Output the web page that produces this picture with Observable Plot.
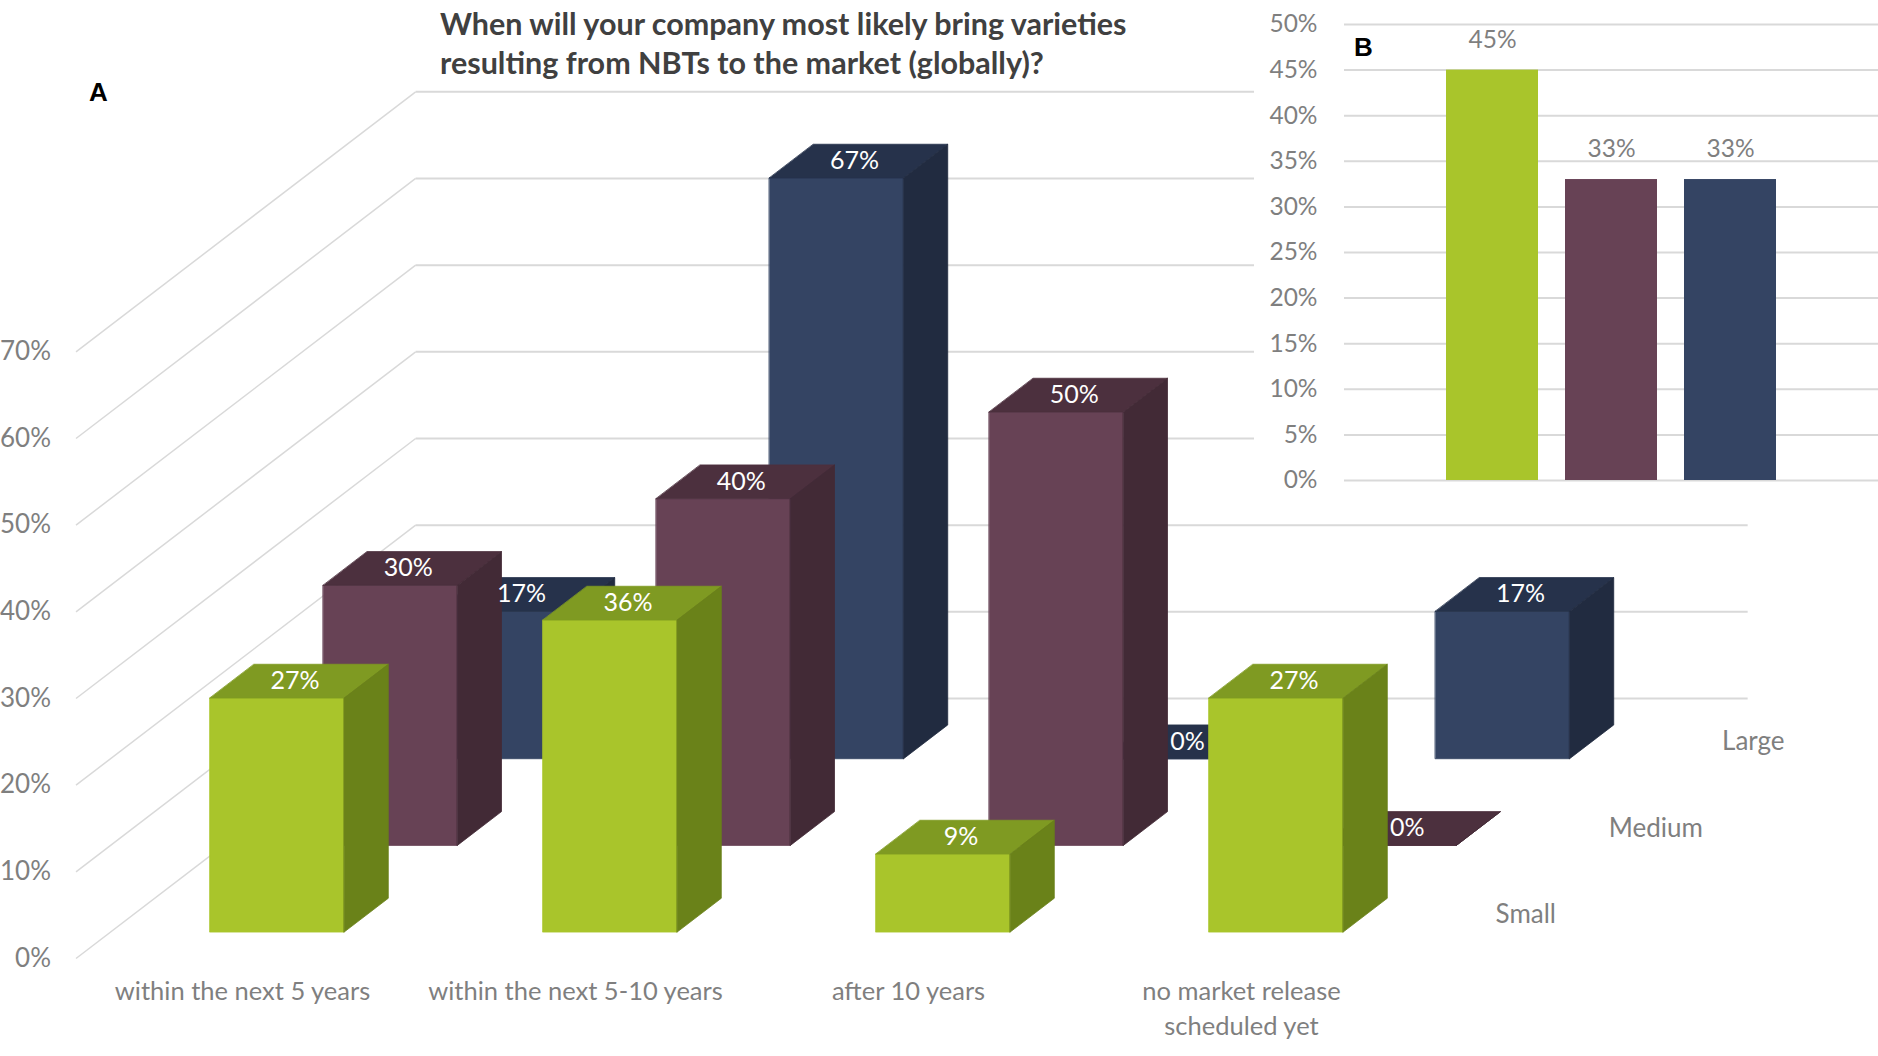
<!DOCTYPE html>
<html>
<head>
<meta charset="utf-8">
<script src="https://cdn.jsdelivr.net/npm/d3@7"></script>
<script src="https://cdn.jsdelivr.net/npm/@observablehq/plot@0.6"></script>
<style>
  html, body { margin: 0; padding: 0; background: #fff; }
  #wrap { position: relative; width: 1878px; height: 1056px; overflow: hidden; font-family: Lato, "Open Sans", sans-serif; }
  #panelA, #panelB { position: absolute; top: 0; }
  #panelA { left: 0; }
  #panelB { left: 1254px; background: #fff; }
  .title { position: absolute; left: 440px; top: 4px; font-weight: bold; font-size: 30.5px; line-height: 39px; color: #404040; white-space: nowrap; }
  .tag { position: absolute; font-family: "Liberation Sans", Arial, sans-serif; font-weight: bold; font-size: 26px; color: #000; }
</style>
</head>
<body>
<div id="wrap">
  <div id="panelA"></div>
  <div id="panelB"></div>
  <div class="title">When will your company most likely bring varieties<br>resulting from NBTs to the market (globally)?</div>
  <div class="tag" style="left:89px;top:77px;">A</div>
  <div class="tag" style="left:1354px;top:32px;">B</div>
</div>
<script>
// ---- data ----
const categories = ["within the next 5 years", "within the next 5-10 years", "after 10 years", "no market release\nscheduled yet"];
const seriesNames = ["Small", "Medium", "Large"];
const smallValues = [27, 36, 9, 27];
const mediumValues = [30, 40, 50, 0];
const largeValues = [17, 67, 0, 17];
const yTicksA = [0, 10, 20, 30, 40, 50, 60, 70];
const overallValues = [45, 33, 33];
const yTicksB = [0, 5, 10, 15, 20, 25, 30, 35, 40, 45, 50];

// ---- styling / geometry (not data) ----
const colors = {
  Small:  {front: "#a9c52b", top: "#7f9a22", side: "#6a8219"},
  Medium: {front: "#674255", top: "#4c303e", side: "#422a36"},
  Large:  {front: "#344463", top: "#26324b", side: "#212b40"}
};
const barFrac = 0.403;   // bar width as share of category slot
const depthFrac = 0.39;  // bar depth as share of row slot
const rowDX = 0.34;      // oblique shift per row in category units
const rowDY = 10;        // oblique shift per row in value units
const nRows = seriesNames.length;

const valuesBySeries = [smallValues, mediumValues, largeValues];
const proj = (c, d, v) => ({x: c + d * rowDX, y: v + d * rowDY});

function faces(j) {
  const vals = valuesBySeries[j];
  const front = [], top = [], side = [], labels = [];
  vals.forEach((v, i) => {
    const c0 = i + 0.5 - barFrac / 2, c1 = i + 0.5 + barFrac / 2;
    const d0 = j + 0.5 - depthFrac / 2, d1 = j + 0.5 + depthFrac / 2;
    const id = seriesNames[j] + i;
    [[c0, d0, 0], [c1, d0, 0], [c1, d0, v], [c0, d0, v]].forEach(p => front.push({id, ...proj(...p)}));
    [[c0, d0, v], [c1, d0, v], [c1, d1, v], [c0, d1, v]].forEach(p => top.push({id, ...proj(...p)}));
    [[c1, d0, 0], [c1, d1, 0], [c1, d1, v], [c1, d0, v]].forEach(p => side.push({id, ...proj(...p)}));
    labels.push({...proj(i + 0.5, j + 0.5, v), text: v + "%"});
  });
  return {front, top, side, labels};
}

const rowMarks = [];
const allLabels = [];
for (let j = nRows - 1; j >= 0; j--) {
  const f = faces(j);
  const col = colors[seriesNames[j]];
  for (const k of ["front", "top", "side"]) {
    rowMarks.push(Plot.line(f[k], {x: "x", y: "y", z: "id", curve: "linear-closed", fill: col[k], stroke: col[k], strokeWidth: 0.8}));
  }
  allLabels.push(...f.labels);
}

const backD = nRows; // back wall depth
const chartA = Plot.plot({
  width: 1878,
  height: 1056,
  marginLeft: 75.5,
  marginRight: 137.5,
  marginTop: 91.3,
  marginBottom: 98,
  style: {fontFamily: "Lato, 'Open Sans', sans-serif", color: "#7f7f7f", background: "transparent", overflow: "visible"},
  x: {domain: [0, categories.length + 1], axis: null},
  y: {domain: [0, 100], axis: null},
  marks: [
    // back wall gridlines
    Plot.link(yTicksA, {x1: backD * rowDX, x2: categories.length + backD * rowDX, y1: d => d + backD * rowDY, y2: d => d + backD * rowDY, stroke: "#d9d9d9", strokeWidth: 2}),
    // side wall gridlines
    Plot.link(yTicksA, {x1: 0, x2: backD * rowDX, y1: d => d, y2: d => d + backD * rowDY, stroke: "#d9d9d9", strokeWidth: 1.5}),
    Plot.axisY({ticks: yTicksA, tickFormat: d => d + "%", tickSize: 0, tickPadding: 25, fontSize: 26, label: null}),
    ...rowMarks,
    // value labels on top faces
    Plot.text(allLabels, {x: "x", y: "y", text: "text", fill: "#ffffff", fontSize: 25, dx: -4}),
    // category labels
    Plot.text(categories, {x: (d, i) => i + 0.5, y: 0, text: d => d, dy: 17, lineAnchor: "top", lineHeight: 1.37, fontSize: 25.5, fill: "#7f7f7f"}),
    // series labels
    Plot.text(seriesNames, {x: (d, j) => categories.length + (j + 0.5) * rowDX, y: (d, j) => (j + 0.5) * rowDY, text: d => d, textAnchor: "start", dx: 31, fontSize: 26, fill: "#7f7f7f"})
  ]
});
document.getElementById("panelA").appendChild(chartA);

const chartB = Plot.plot({
  width: 624,
  height: 500,
  marginLeft: 90,
  marginRight: 0,
  marginTop: 24,
  marginBottom: 20,
  style: {fontFamily: "Lato, 'Open Sans', sans-serif", color: "#7f7f7f", background: "#fff"},
  x: {domain: seriesNames, paddingInner: 0.227, paddingOuter: 0.857, axis: null},
  y: {domain: [0, 50], axis: null},
  marks: [
    Plot.ruleY(yTicksB, {stroke: "#d9d9d9", strokeWidth: 2}),
    Plot.axisY({ticks: yTicksB, tickFormat: d => d + "%", tickSize: 0, tickPadding: 27, fontSize: 24.5, label: null}),
    Plot.barY(overallValues, {x: (d, i) => seriesNames[i], y: d => d, fill: (d, i) => colors[seriesNames[i]].front}),
    Plot.text(overallValues, {x: (d, i) => seriesNames[i], y: d => d, text: d => d + "%", dy: -30, fontSize: 24.5, fill: "#7f7f7f"})
  ]
});
document.getElementById("panelB").appendChild(chartB);
</script>
</body>
</html>
